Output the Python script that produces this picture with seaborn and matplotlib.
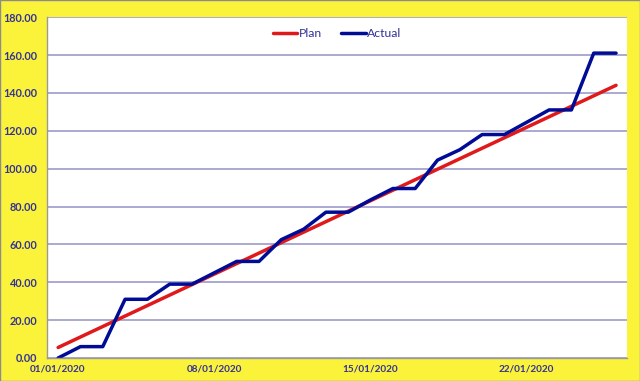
import pandas as pd
import matplotlib.pyplot as plt
import matplotlib.dates as mdates
import matplotlib.transforms as mtransforms
import seaborn as sns

# -------------------------
# Data
# -------------------------
dates = pd.date_range("2020-01-01", periods=26, freq="D")
plan = [5.54, 11.08, 16.62, 22.15, 27.69, 33.23, 38.77, 44.31, 49.85, 55.38,
        60.92, 66.46, 72.00, 77.54, 83.08, 88.62, 94.15, 99.69, 105.23, 110.77,
        116.31, 121.85, 127.38, 132.92, 138.46, 144.00]
actual = [0.0, 6.0, 6.0, 31.0, 31.0, 39.0, 39.0, 45.0, 51.0, 51.0,
          62.5, 68.0, 77.0, 77.0, 83.5, 89.5, 89.5, 104.5, 110.0, 118.0,
          118.0, 124.5, 131.0, 131.0, 161.0, 161.0]
tick_dates = ["2020-01-01", "2020-01-08", "2020-01-15", "2020-01-22"]

df = pd.DataFrame({"date": dates + pd.Timedelta(hours=12),
                   "Plan": plan, "Actual": actual})
long_df = df.melt(id_vars="date", var_name="series", value_name="value")

# -------------------------
# Style
# -------------------------
sns.set_style("white")
plt.rcParams["font.family"] = ["Lato", "DejaVu Sans"]

yellow = "#FBF33A"
navy = "#333399"

fig = plt.figure(figsize=(6.4, 3.81), dpi=100, facecolor=yellow)
ax = fig.add_axes([0.0734, 0.0604, 0.9066, 0.8946])
ax.set_facecolor("white")

sns.lineplot(data=long_df, x="date", y="value", hue="series",
             palette={"Plan": "#E0191B", "Actual": "#000C96"},
             linewidth=2.5, ax=ax)

# axes and grid
ax.set_ylim(0, 180)
ax.set_yticks(range(0, 181, 20))
ax.yaxis.set_major_formatter(plt.FuncFormatter(lambda v, p: f"{v:.2f}"))
ax.set_xlim(pd.Timestamp("2020-01-01"), pd.Timestamp("2020-01-27"))
ax.set_xticks(pd.to_datetime(tick_dates))
ax.xaxis.set_major_formatter(mdates.DateFormatter("%d/%m/%Y"))

ax.grid(axis="y", color="#9B9BCB", linewidth=1.2)
ax.set_axisbelow(True)
for side in ["top", "right"]:
    ax.spines[side].set_visible(False)
for side in ["left", "bottom"]:
    ax.spines[side].set_color("#9A9A9A")
    ax.spines[side].set_linewidth(1.0)

ax.tick_params(axis="y", length=0, pad=7, labelsize=7.8, labelcolor=navy)
ax.tick_params(axis="x", length=3, color="#9A9A9A", pad=2,
               labelsize=7.2, labelcolor=navy)
for lbl in ax.get_yticklabels():
    lbl.set_fontweight("bold")
# Excel centres date labels on the day, not on the tick
shift = mtransforms.ScaledTranslation(11 / 100, 0, fig.dpi_scale_trans)
for lbl in ax.get_xticklabels():
    lbl.set_fontweight("bold")
    lbl.set_transform(lbl.get_transform() + shift)

ax.set_xlabel("")
ax.set_ylabel("")

# legend
leg = ax.legend(loc="upper center", bbox_to_anchor=(0.5, 1.0), ncol=2,
                frameon=False, fontsize=8.8, handlelength=2.0,
                handletextpad=0.1, columnspacing=1.6)
for txt in leg.get_texts():
    txt.set_color(navy)

# thin outer frame
fig.patches.append(plt.Rectangle((0, 0), 1, 1, transform=fig.transFigure,
                                 fill=False, edgecolor="#8C8C8C", linewidth=1))

plt.savefig("out.png", dpi=100, facecolor=yellow)
